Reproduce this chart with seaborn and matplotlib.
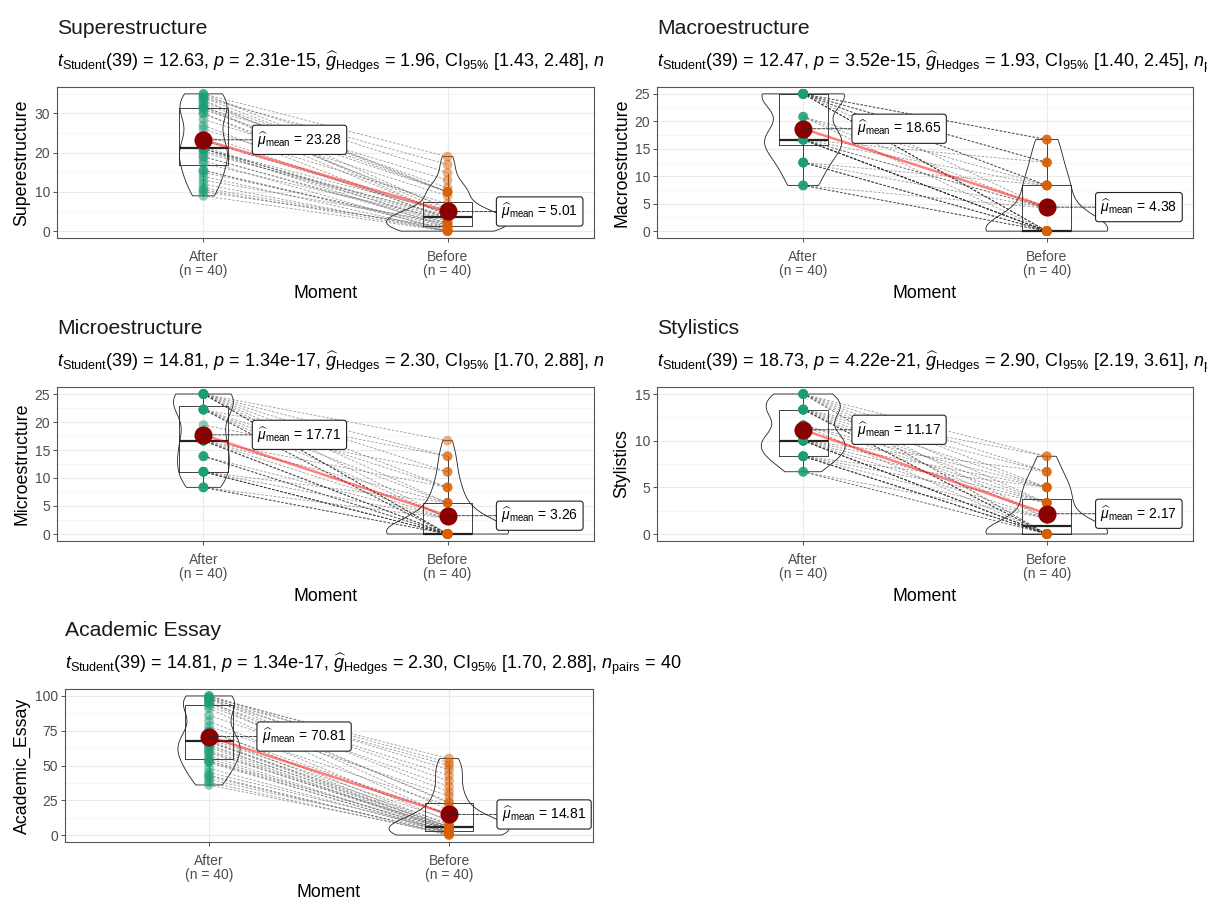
import pandas as pd
import seaborn as sns
import matplotlib.pyplot as plt
from matplotlib.ticker import AutoMinorLocator
from matplotlib.transforms import Bbox, TransformedBbox

sns.set_theme(style="whitegrid")
plt.rcParams['font.family'] = ['Liberation Sans', 'DejaVu Sans']
plt.rcParams['mathtext.fontset'] = 'custom'
plt.rcParams['mathtext.rm'] = 'Liberation Sans'
plt.rcParams['mathtext.it'] = 'Liberation Sans:italic'
plt.rcParams['mathtext.bf'] = 'Liberation Sans:bold'

moments = ['After', 'Before']
palette = ['#1B9E77', '#D95F02']

# puntajes por estudiante (mismo orden en After y Before -> pares)
super_after = [9, 10, 10.5, 11, 12, 13, 14, 15, 15.5, 15.5,
               17.2, 18, 19, 19, 20, 20.5, 21, 21, 21, 21,
               21.5, 23, 24.5, 26, 27, 28.5, 30, 30, 31, 31.5,
               31.5, 32, 32.5, 33, 33.5, 34, 34, 34.5, 35, 35]
super_before = [0, 1, 0, 0.5, 0, 2, 0, 1.5, 0.5, 1,
                3, 0, 2, 1.5, 4, 2.5, 3, 1, 5, 3.5,
                2, 4.5, 3.5, 7, 3, 9, 4, 6, 10, 5,
                13, 4, 10, 11, 5.5, 17, 10, 14.9, 19, 10]

macro_after = [8.33, 8.33, 8.33, 8.33, 12.5, 12.5, 12.5, 12.5, 12.5, 12.5,
               16.67, 16.67, 16.67, 16.67, 16.67, 16.67, 16.67, 16.67, 16.67, 16.67,
               16.67, 16.67, 20.83, 20.83, 20.83, 25, 25, 25, 25, 25,
               25, 25, 25, 25, 25, 25, 25, 25, 25, 25]
macro_before = [0, 0, 0, 4.17, 0, 0, 4.17, 0, 8.33, 0,
                0, 0, 4.17, 0, 8.33, 0, 0, 12.5, 0, 4.17,
                0, 0, 8.33, 0, 4.17, 16.67, 0, 12.5, 8.33, 0,
                16.67, 4.17, 12.5, 8.33, 16.67, 0, 12.5, 8.33, 0, 0]

micro_after = [8.33, 8.33, 8.33, 8.33, 11.11, 11.11, 11.11, 11.11, 11.11, 11.11,
               11.11, 13.89, 13.89, 13.89, 13.89, 16.67, 16.67, 16.67, 16.67, 16.67,
               16.67, 16.67, 19.44, 22.22, 22.22, 22.22, 22.22, 22.22, 22.22, 22.22,
               25, 25, 25, 25, 25, 25, 25, 25, 25, 25]
micro_before = [0, 0, 2.78, 0, 0, 0, 0, 2.78, 0, 5.56,
                0, 0, 2.78, 0, 0, 0, 5.56, 0, 8.33, 0,
                2.78, 0, 11.11, 0, 8.33, 2.78, 13.89, 0, 5.56, 0,
                16.67, 0, 11.11, 2.78, 8.33, 13.89, 0, 5.56, 0, 0]

styl_after = [6.67, 6.67, 6.67, 8.33, 8.33, 8.33, 8.33, 8.33, 8.33, 8.33,
              8.33, 10, 10, 10, 10, 10, 10, 10, 10, 10,
              10, 11.67, 11.67, 11.67, 13.33, 13.33, 13.33, 13.33, 13.33, 13.33,
              13.33, 13.33, 13.33, 15, 15, 15, 15, 15, 15, 15]
styl_before = [0, 0, 1.67, 0, 0, 3.33, 0, 0, 1.67, 0,
               5, 0, 3.33, 0, 0, 1.67, 5, 0, 0, 6.67,
               0, 3.33, 0, 5, 0, 8.33, 1.67, 0, 5, 3.33,
               0, 6.67, 0, 6.67, 0, 8.33, 3.33, 5, 1.67, 0]

essay_after = [36, 38, 40, 42, 43, 45, 48, 52, 53, 53.4,
               55, 57, 59, 60, 61, 63, 64, 65, 67, 67,
               68, 69, 71, 74, 75, 78, 82, 86, 91, 93,
               95, 95, 96, 97, 98, 98, 99, 99, 100, 100]
essay_before = [1, 0, 2, 0.5, 0, 3, 1.5, 2, 1, 4,
                2.5, 2, 5, 3.5, 4.5, 3, 6, 4, 8, 5,
                5.5, 11, 6, 15, 7, 21, 10, 28, 13.4, 24,
                18, 35, 23, 43, 31, 50, 39, 55, 47, 52]

titles = ['Superestructure', 'Macroestructure', 'Microestructure', 'Stylistics', 'Academic Essay']
ylabels = ['Superestructure', 'Macroestructure', 'Microestructure', 'Stylistics', 'Academic_Essay']
t_vals = ['12.63', '12.47', '14.81', '18.73', '14.81']
p_vals = ['2.31e-15', '3.52e-15', '1.34e-17', '4.22e-21', '1.34e-17']
g_vals = ['1.96', '1.93', '2.30', '2.90', '2.30']
ci_lo = ['1.43', '1.40', '1.70', '2.19', '1.70']
ci_hi = ['2.48', '2.45', '2.88', '3.61', '2.88']
yticks = [[0, 10, 20, 30], [0, 5, 10, 15, 20, 25], [0, 5, 10, 15, 20, 25],
          [0, 5, 10, 15], [0, 25, 50, 75, 100]]
data = [(super_after, super_before), (macro_after, macro_before),
        (micro_after, micro_before), (styl_after, styl_before),
        (essay_after, essay_before)]

W, H = 1207, 899
# posiciones de los paneles en pixeles: izquierda, arriba, derecha, abajo
boxes = [(57, 87, 594, 238), (657, 87, 1193, 238),
         (57, 387, 594, 541), (657, 387, 1193, 541),
         (65, 689, 593, 842)]
# borde derecho (px) donde se corta el subtitulo de cada panel
clip_x = [603, W, 603, W, W]
xlab_pad = [4.5, 4.5, 4.5, 4.5, 1.5]

fig = plt.figure(figsize=(W / 100, H / 100), dpi=100)


def draw_panel(ax, after, before, ylab, ticks, lpad):
    n = len(after)
    df = pd.DataFrame({'id': list(range(n)) * 2,
                       'Moment': ['After'] * n + ['Before'] * n,
                       'value': after + before})
    df['pos'] = df['Moment'].map({m: i for i, m in enumerate(moments)})

    sns.violinplot(data=df, x='Moment', y='value', order=moments, ax=ax, width=0.5,
                   cut=0, inner=None, fill=False, color='#222222', linewidth=0.6,
                   density_norm='area', zorder=2)
    sns.boxplot(data=df, x='Moment', y='value', order=moments, ax=ax, width=0.2,
                fill=False, color='#222222', linewidth=0.6, showfliers=False,
                showcaps=False, medianprops={'linewidth': 1.6}, zorder=2)
    sns.lineplot(data=df, x='pos', y='value', units='id', estimator=None, ax=ax,
                 color='#333333', linewidth=0.6, linestyle=(0, (3, 2)), alpha=0.5, zorder=3)
    sns.stripplot(data=df, x='Moment', y='value', order=moments, hue='Moment',
                  hue_order=moments, palette=palette, jitter=False, size=7, alpha=0.5,
                  linewidth=0, legend=False, ax=ax, zorder=4)
    sns.pointplot(data=df, x='Moment', y='value', order=moments, estimator='mean',
                  errorbar=None, color='red', marker='', linewidth=1.8, alpha=0.5,
                  ax=ax, zorder=5)
    sns.pointplot(data=df, x='Moment', y='value', order=moments, estimator='mean',
                  errorbar=None, color='#8B0000', linestyle='none', markersize=11,
                  ax=ax, zorder=6)

    means = df.groupby('Moment')['value'].mean().reindex(moments)
    for i, m in enumerate(moments):
        ax.annotate(rf"$\widehat{{\mu}}_{{\mathrm{{mean}}}}$ = {means[m]:.2f}",
                    xy=(i, means[m]), xytext=(i + 0.22, means[m]),
                    ha='left', va='center', fontsize=10, color='black', zorder=7,
                    bbox=dict(boxstyle='round,pad=0.35,rounding_size=0.2',
                              fc='white', ec='#222222', lw=0.8),
                    arrowprops=dict(arrowstyle='-', linestyle='--', lw=0.6,
                                    color='#222222', shrinkA=0, shrinkB=0))

    lo, hi = df['value'].min(), df['value'].max()
    pad = 0.05 * (hi - lo)
    ax.set_ylim(lo - pad, hi + pad)
    ax.set_xlim(-0.6, 1.6)
    ax.set_yticks(ticks)
    counts = df.groupby('Moment').size().reindex(moments)
    ax.set_xticks(range(len(moments)), [f"{m}\n(n = {counts[m]})" for m in moments])
    for lab in ax.get_xticklabels():
        lab.set_linespacing(1.05)
    ax.yaxis.set_minor_locator(AutoMinorLocator(2))
    ax.set_facecolor('white')
    ax.grid(which='major', color='#EBEBEB', linewidth=0.8)
    ax.grid(which='minor', axis='y', color='#F3F3F3', linewidth=0.5)
    ax.set_axisbelow(True)
    ax.tick_params(axis='both', which='major', length=3, width=0.6, color='#333333',
                   labelcolor='#4D4D4D', labelsize=10, left=True, bottom=True, pad=2)
    ax.tick_params(axis='x', which='major', pad=5.5)
    ax.tick_params(axis='y', which='minor', length=0)
    for s in ax.spines.values():
        s.set_color('#555555')
        s.set_linewidth(0.8)
    ax.set_xlabel('Moment', fontsize=12.8, color='black', labelpad=lpad)
    ax.set_ylabel(ylab, fontsize=12.8, color='black', labelpad=3)


for k in range(5):
    l, t, r, b = boxes[k]
    ax = fig.add_axes([l / W, 1 - b / H, (r - l) / W, (b - t) / H])
    after, before = data[k]
    draw_panel(ax, after, before, ylabels[k], yticks[k], xlab_pad[k])

    fig.text(l / W, 1 - (t - 59) / H, titles[k], fontsize=15.2, color='#1A1A1A',
             ha='left', va='center')
    df_n = len(after) - 1
    sub = (rf"$t_{{\mathrm{{Student}}}}$({df_n}) = {t_vals[k]}, $p$ = {p_vals[k]}, "
           rf"$\widehat{{g}}_{{\mathrm{{Hedges}}}}$ = {g_vals[k]}, "
           rf"CI$_{{95\%}}$ [{ci_lo[k]}, {ci_hi[k]}], $n_{{\mathrm{{pairs}}}}$ = {len(after)}")
    txt = fig.text(l / W, 1 - (t - 25) / H, sub, fontsize=13, color='black',
                   ha='left', va='center', clip_on=True)
    txt.set_clip_box(TransformedBbox(Bbox([[0, 0], [clip_x[k] / W, 1]]), fig.transFigure))

fig.savefig('out.png', dpi=100)
